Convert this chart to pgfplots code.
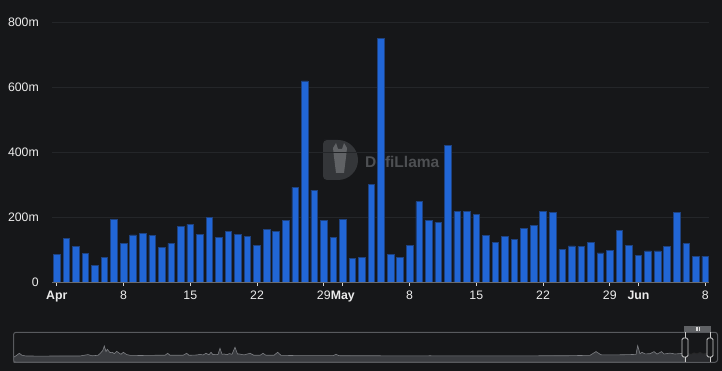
\documentclass[border=0pt]{standalone}
\usepackage{pgfplots}
\pgfplotsset{compat=1.18}
\usepackage{pgfplotstable}
\usepackage{fontspec}
\setmainfont{Liberation Sans}
\definecolor{bg}{RGB}{22,23,25}
\definecolor{gridc}{RGB}{36,38,41}
\definecolor{axisgray}{RGB}{105,107,112}
\definecolor{tickc}{RGB}{210,210,210}
\definecolor{labc}{RGB}{236,236,236}
\definecolor{barc}{RGB}{33,102,214}
\definecolor{bard}{RGB}{30,66,128}
\definecolor{ovfill}{RGB}{58,60,64}
\definecolor{ovline}{RGB}{125,127,131}
\definecolor{ovbox}{RGB}{88,90,94}
\definecolor{wmtext}{RGB}{78,80,83}
\definecolor{wmlogo}{RGB}{52,54,57}
\definecolor{wmhead}{RGB}{96,98,101}
\definecolor{selbar}{RGB}{95,97,100}
\definecolor{selic}{RGB}{220,220,220}
\definecolor{handc}{RGB}{205,205,205}

\pgfplotstableread{
day val
0 85
1 135
2 109
3 89
4 50
5 77
6 193
7 119
8 145
9 150
10 143
11 107
12 119
13 172
14 178
15 146
16 198
17 138
18 156
19 146
20 141
21 112
22 163
23 157
24 190
25 292
26 620
27 283
28 190
29 138
30 193
31 72
32 76
33 301
34 752
35 84
36 77
37 112
38 248
39 191
40 184
41 420
42 217
43 218
44 209
45 144
46 122
47 140
48 132
49 164
50 174
51 218
52 214
53 100
54 111
55 109
56 123
57 90
58 98
59 159
60 112
61 82
62 96
63 96
64 109
65 214
66 118
67 80
68 80
}\volumes

\begin{document}
\begin{tikzpicture}[x=1pt,y=1pt]
\fill[bg] (0,0) rectangle (722,371);
\useasboundingbox (0,0) rectangle (722,371);
% watermark (behind bars)
\fill[wmlogo] (328,231) -- (338,231) arc[start angle=90, end angle=-90, radius=20] -- (328,191) [rounded corners=4pt] -- (323,191) -- (323,231) -- cycle;
\fill[wmhead] (333,223) -- (336,228) -- (338,222) -- (342,222) -- (344,228) -- (347,223) -- (346,214) -- (344,198) -- (336,198) -- (334,214) -- cycle;
\node[text=wmtext, font=\bfseries\fontsize{15.5}{17}\selectfont, anchor=west, inner sep=0pt] at (365,209) {DefiLlama};

\begin{axis}[
  at={(52pt,89pt)}, anchor=south west,
  scale only axis, width=657pt, height=259.5pt,
  xmin=-0.5, xmax=68.4, ymin=0, ymax=800,
  axis lines*=left,
  x axis line style={draw=axisgray, line width=0.8pt},
  y axis line style={draw=none},
  ymajorgrids, grid style={draw=gridc, line width=0.6pt},
  ytick={0,200,400,600,800},
  yticklabels={0,200m,400m,600m,800m},
  xtick={0,7,14,21,28,30,37,44,51,58,61,68},
  xticklabels={\textbf{Apr},8,15,22,29,\textbf{May},8,15,22,29,\textbf{Jun},8},
  tick align=outside, major tick length=4pt,
  xtick style={draw=tickc, line width=0.8pt},
  ytick style={draw=none},
  ticklabel style={font=\fontsize{12.3}{14}\selectfont, text=labc, inner sep=0pt},
  yticklabel style={anchor=east, xshift=-9pt},
  xticklabel style={anchor=base, yshift=-13.5pt},
]
\addplot[ybar, bar width=6.6pt, fill=barc, draw=bard, line width=0.6pt] table[x=day, y=val] {\volumes};
\end{axis}

% overview (data zoom)
\begin{axis}[
  at={(13.5pt,8.7pt)}, anchor=south west,
  scale only axis, width=704pt, height=30pt,
  xmin=13.5, xmax=717.5, ymin=0, ymax=30,
  hide axis,
]
\addplot[fill=ovfill, draw=ovline, line width=0.6pt] coordinates {
(13.5,5) (16,6.5) (19.3,9) (22,7) (26,6.3) (40,6.2) (60,6.3) (80,6.3) (88,7.7) (92,6.5) (98,7) (100,8.7) (102.7,11.7) (104.3,16.3) (106,10.7) (107.3,13) (110,9.7) (112.3,10) (114.3,8.7) (116.7,11) (119,9.3) (121,8) (123.3,10) (126.7,7.7) (130,7) (140,6.8) (155,7) (165,7) (167.7,9) (170,7) (183,7) (186.7,9) (189,7) (197,7.3) (200,8) (203,7.3) (206,9) (209,7.5) (211,10) (213,7.6) (215,8) (218,7.8) (220,14) (222,8) (224,8.3) (227,7.6) (229.3,8.7) (232,8) (235,15) (237.5,8.3) (239.3,8.3) (244,7.4) (250,9) (254,7) (260,7) (263,9) (266,7) (274,7) (277.6,10) (281,7) (300,6.6) (320,6.6) (333,6.6) (336,8) (339,6.6) (360,6.5) (380,6.5) (400,6.4) (430,6.5) (460,6.4) (500,6.4) (540,6.5) (570,6.6) (590,7) (596,10.7) (601,7.5) (615,7.4) (625,7.6) (633,7.8) (636,8) (637.7,16.7) (640,8.5) (642,10) (645,8.4) (650,8.6) (654,10.7) (657,8.2) (661.6,10.7) (664,8.3) (670,9.2) (675,8.3) (681,8.8) (685,8.5)
} \closedcycle;
\addplot[fill=ovfill!70!black, draw=black!85, line width=0.6pt] coordinates {
(685,8.5) (688,9) (691,8) (694,9.5) (697,8.6) (700,10) (703,8.4) (706,9.2) (710,8.5)
} \closedcycle;
\end{axis}
\draw[ovbox, line width=1pt, rounded corners=2.5pt] (13.5,8.7) rectangle (717.5,38.7);
% selection top bar
\fill[selbar] (684,38.7) rectangle (711,45.3);
\foreach \xx in {695.8,697.5,699.2} \draw[selic, line width=0.5pt] (\xx,40.3) -- (\xx,43.7);
% handles
\foreach \hx in {685,710} {
  \draw[handc, line width=0.8pt] (\hx,8.7) -- (\hx,38.7);
  \filldraw[fill=bg, draw=handc, line width=0.8pt, rounded corners=1.5pt] (\hx-3,14) rectangle (\hx+3,33);
}
\end{tikzpicture}
\end{document}
